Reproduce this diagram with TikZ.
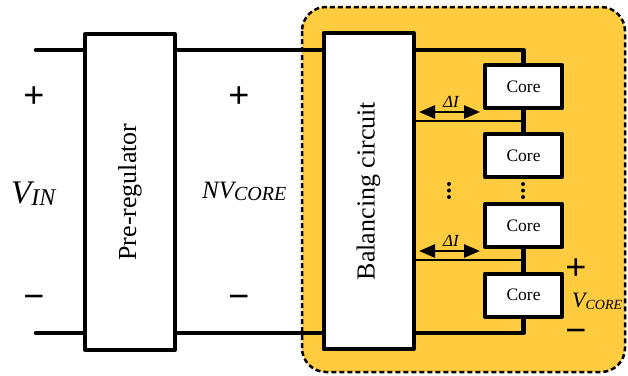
\documentclass[tikz,border=0pt]{standalone}
\usepackage{fontspec}
\usepackage{graphicx}
\setmainfont{Liberation Serif}
\newfontfamily\signfont{Liberation Sans}
\usetikzlibrary{arrows.meta, positioning, calc}
\definecolor{balyellow}{HTML}{FFCC3F}
\newcommand{\fsz}[1]{\fontsize{#1}{#1}\selectfont}
\newcommand{\itsub}[4]{{\fsz{#3}\itshape #1\raisebox{-2pt}{\fsz{#4}#2}}}

\begin{document}
\begin{tikzpicture}[x=1pt, y=-1pt, line join=round,
    wire/.style={line width=4.5pt},
    tapwire/.style={line width=1.8pt},
    block/.style={draw, line width=4pt, fill=white, inner sep=0pt,
      minimum width=90pt, minimum height=316pt, font=\fsz{26}},
    corebox/.style={draw, line width=4pt, fill=white, inner sep=0pt,
      minimum width=77pt, minimum height=43pt, font=\fsz{17.5}},
    sign/.style={anchor=base, inner sep=0pt, font=\signfont\fsz{36}},
    lbl/.style={anchor=base west, inner sep=0pt},
    darrow/.style={line width=2.6pt,
      {Triangle[length=16pt,width=13pt]}-{Triangle[length=16pt,width=13pt]}}]
  \useasboundingbox (0,0) rectangle (628,375);
  % balancing stage
  \draw[fill=balyellow, line width=2.5pt, dash pattern=on 5pt off 3pt,
    rounded corners=24pt] (302,7) rectangle (625,372);

  \node[block] (prereg) at (130,192) {\rotatebox{90}{Pre-regulator}};
  \node[block] (bal) at (368.5,191) {\rotatebox{90}{Balancing circuit}};
  \foreach \i/\y in {1/86.5,2/155.5,3/225.5,4/295}
    \node[corebox] (core\i) at (523.5,\y) {Core};

  \coordinate (vinp) at (36,50);
  \coordinate (vinn) at (36,333);
  \draw[wire, line cap=round] (vinp) -- (vinp -| prereg.west);
  \draw[wire, line cap=round] (vinn) -- (vinn -| prereg.west);
  \draw[wire] (prereg.east |- vinp) -- (bal.west |- vinp);
  \draw[wire] (prereg.east |- vinn) -- (bal.west |- vinn);
  \draw[wire] (bal.east |- vinp) -| (core1.north);
  \draw[wire] (bal.east |- vinn) -| (core4.south);
  \draw[wire] (core1.south) -- (core2.north);
  \draw[wire] (core3.south) -- (core4.north);

  \coordinate (tap1) at ($(core1.south)!0.5!(core2.north)$);
  \coordinate (tap2) at ($(core3.south)!0.5!(core4.north)$);
  \draw[tapwire] (bal.east |- tap1) -- (tap1);
  \draw[tapwire] (bal.east |- tap2) -- (tap2);

  \foreach \k/\y in {1/112,2/251}{
    \coordinate (dl\k) at (419,\y);
    \coordinate (dr\k) at (480,\y);
    \draw[darrow] (dl\k) -- (dr\k);
    \node[anchor=base, inner sep=0pt, font=\fsz{17}\itshape] (dI\k) at (451,{\y-5}) {ΔI};
  }
  \foreach \x in {449,523}
    \foreach \y in {184,190.5,197}
      \fill (\x,\y) circle (2);

  \node[sign] (pin) at (34,107) {+};
  \node[sign] (nin) at (34,308) {−};
  \node[sign] (pout) at (239,107) {+};
  \node[sign] (nout) at (239,308) {−};
  \node[sign] (pcore) at (576,279) {+};
  \node[sign] (ncore) at (576,342) {−};
  \node[lbl] (vin) at (11,203) {\itsub{V}{IN}{33}{24}};
  \node[lbl] (nvcore) at (202,198) {\itsub{NV}{CORE}{25}{20}};
  \node[lbl] (vcore) at (572,307) {\itsub{V}{CORE}{22}{14}};
\end{tikzpicture}
\end{document}
